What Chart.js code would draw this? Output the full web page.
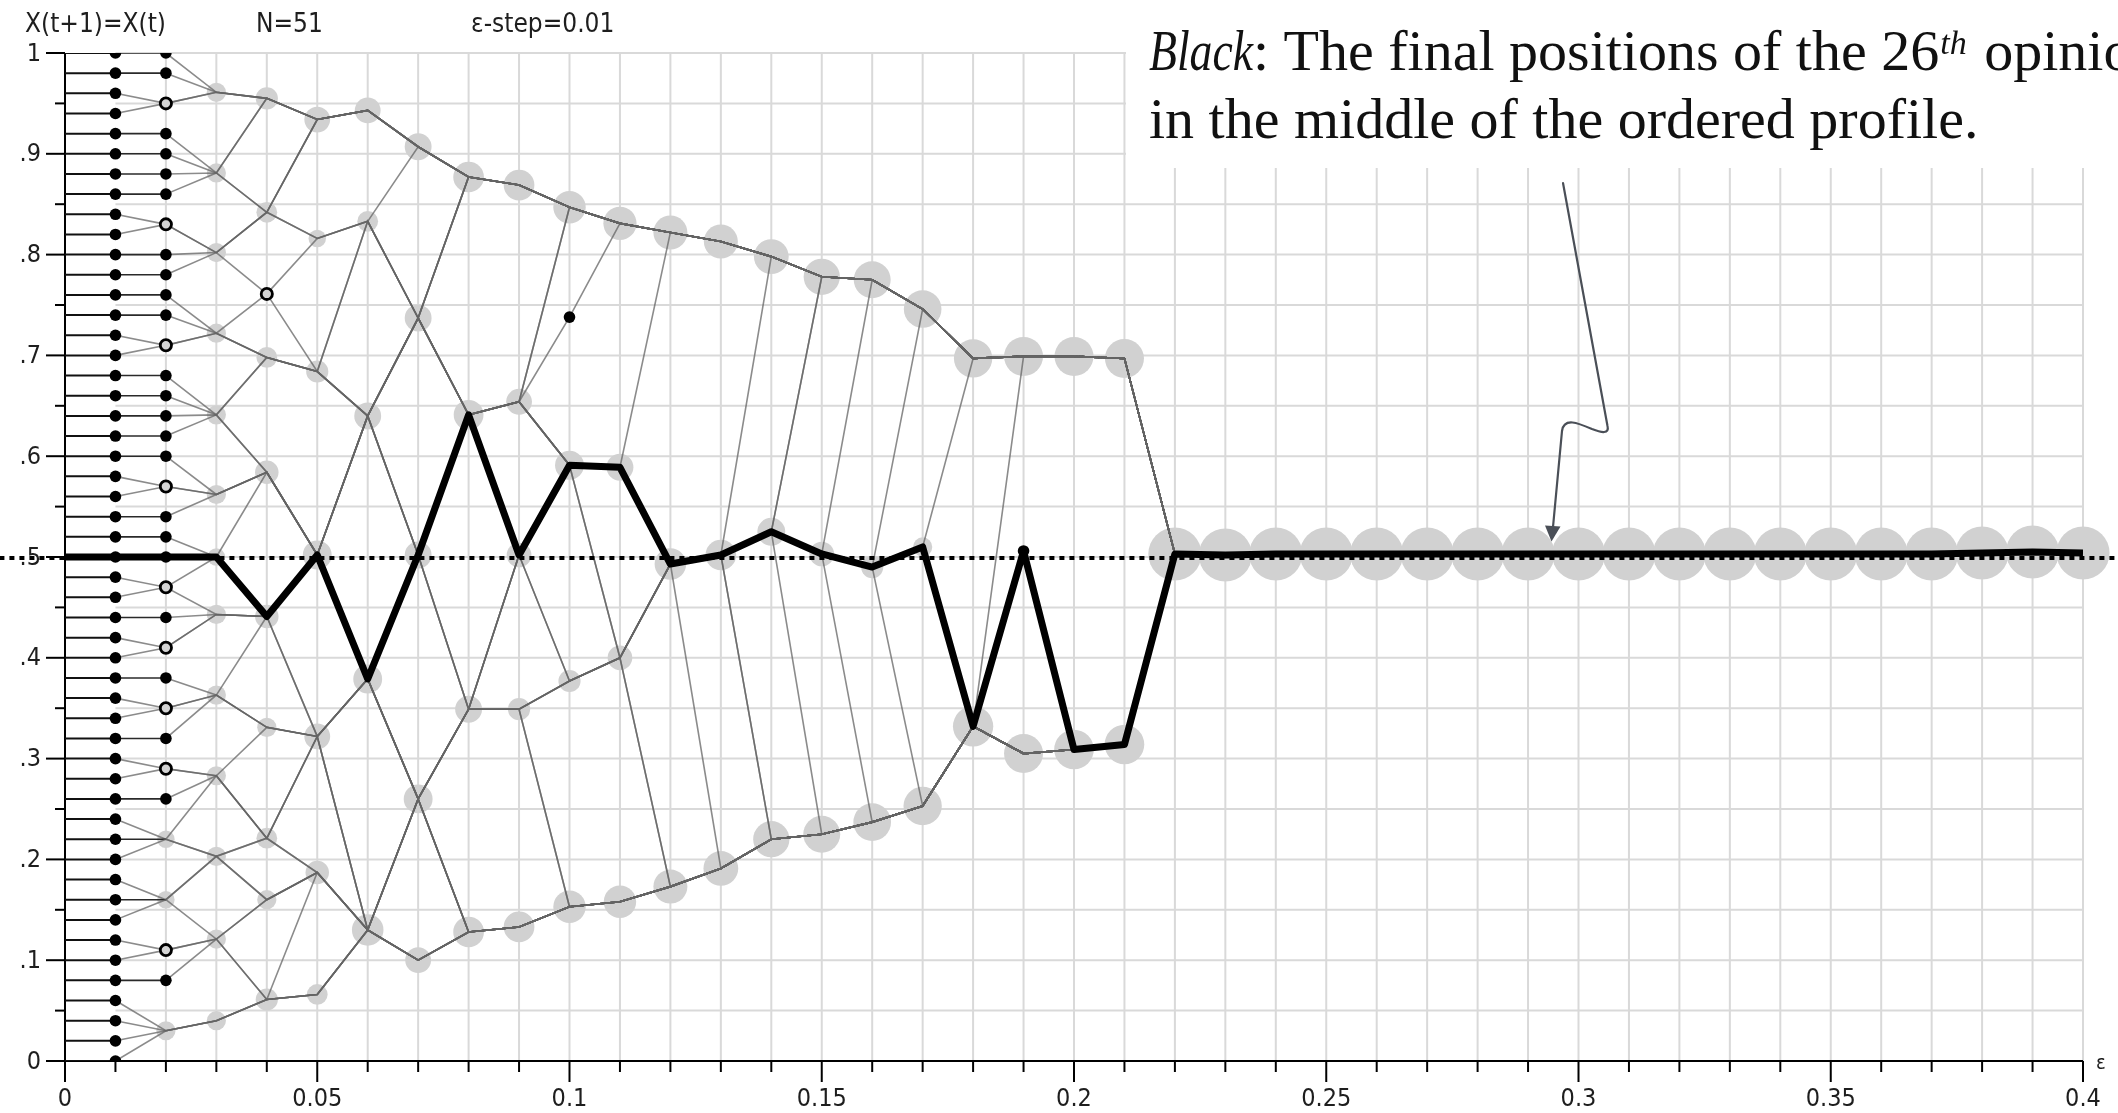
<!DOCTYPE html>
<html>
<head>
<meta charset="utf-8">
<script src="https://cdn.jsdelivr.net/npm/chart.js@4.4.1/dist/chart.umd.min.js"></script>
<style>
  html, body { margin: 0; padding: 0; background: #fff; overflow: hidden; }
  #wrap { width: 2118px; height: 1113px; position: relative; }
</style>
</head>
<body>
<div id="wrap"><canvas id="hk" width="2118" height="1113"></canvas></div>
<script>
// Bounded-confidence opinion dynamics, N = 51 agents, confidence level ε in steps of 0.01.
// For each ε: positions of the final opinion clusters (ascending) and how many agents sit in each.

const epsilons = [0.01,0.02,0.03,0.04,0.05,0.06,0.07,0.08,0.09,0.10,
                  0.11,0.12,0.13,0.14,0.15,0.16,0.17,0.18,0.19,0.20,
                  0.21,0.22,0.23,0.24,0.25,0.26,0.27,0.28,0.29,0.30,
                  0.31,0.32,0.33,0.34,0.35,0.36,0.37,0.38,0.39,0.40];

const initialOpinions = [0.00,0.02,0.04,0.06,0.08,0.10,0.12,0.14,0.16,0.18,
                         0.20,0.22,0.24,0.26,0.28,0.30,0.32,0.34,0.36,0.38,
                         0.40,0.42,0.44,0.46,0.48,0.50,0.52,0.54,0.56,0.58,
                         0.60,0.62,0.64,0.66,0.68,0.70,0.72,0.74,0.76,0.78,
                         0.80,0.82,0.84,0.86,0.88,0.90,0.92,0.94,0.96,0.98,1.00];

const pos02 = [0.03,0.08,0.11,0.16,0.22,0.26,0.29,0.32,0.35,0.38,0.41,0.44,0.47,0.50,0.52,0.54,0.57,0.60,
               0.62,0.64,0.66,0.68,0.71,0.74,0.76,0.78,0.80,0.83,0.86,0.88,0.90,0.92,0.95,0.98,1.00];
const cnt02 = [4,1,2,3,3,1,2,1,2,1,2,1,2,1,1,1,2,1,1,1,1,1,2,1,1,1,1,2,1,1,1,1,2,1,1];

const pos03 = [0.040,0.121,0.203,0.283,0.363,0.443,0.500,0.562,0.641,0.722,0.802,0.881,0.961];
const cnt03 = [4,4,4,4,4,4,3,4,4,4,4,4,4];

const pos04 = [0.061,0.160,0.221,0.331,0.441,0.584,0.698,0.761,0.842,0.955];
const cnt04 = [6,4,5,4,7,7,5,2,5,6];

const pos05 = [0.066,0.187,0.322,0.502,0.684,0.816,0.934];
const cnt05 = [5,7,9,12,6,3,9];

const pos06 = [0.130,0.379,0.640,0.833,0.943];
const cnt06 = [15,12,10,5,9];

const pos07 = [0.100,0.260,0.502,0.737,0.907];
const cnt07 = [9,12,10,10,10];

const pos08 = [0.128,0.349,0.641,0.877];
const cnt08 = [14,10,13,14];

const pos09 = [0.133,0.349,0.502,0.654,0.869];
const cnt09 = [14,6,8,9,14];

const pos10 = [0.153,0.377,0.591,0.738,0.847];
const cnt10 = [16,6,12,1,16];

const pos11 = [0.158,0.400,0.589,0.831];
const cnt11 = [16,8,10,17];

const pos12 = [0.173,0.493,0.822];
const cnt12 = [18,15,18];

const pos13 = [0.191,0.502,0.813];
const cnt13 = [19,14,18];

const pos14 = [0.220,0.525,0.798];
const cnt14 = [21,11,19];

const pos15 = [0.225,0.503,0.778];
const cnt15 = [22,8,21];

const pos16 = [0.237,0.490,0.775];
const cnt16 = [23,6,22];

const pos17 = [0.253,0.510,0.746];
const cnt17 = [24,4,23];

const pos18 = [0.332,0.697];
const cnt18 = [27,24];

const pos19 = [0.305,0.506,0.699];
const cnt19 = [25,1,25];

const pos20 = [0.309,0.699];
const cnt20 = [26,25];

const pos21 = [0.314,0.697];
const cnt21 = [26,25];

// ε = 0.22 … 0.40: a single consensus cluster holding all 51 agents
const consensusPositions = [0.503,0.502,0.503,0.503,0.503,0.503,0.503,0.503,0.503,0.503,
                            0.503,0.503,0.503,0.503,0.503,0.503,0.504,0.505,0.504];

const xTickValues = [0,0.05,0.10,0.15,0.20,0.25,0.30,0.35,0.40];
const xTickLabels = ['0','0.05','0.1','0.15','0.2','0.25','0.3','0.35','0.4'];
const yTickValues = [0,0.1,0.2,0.3,0.4,0.5,0.6,0.7,0.8,0.9,1];
const yTickLabels = ['0','.1','.2','.3','.4','.5','.6','.7','.8','.9','1'];

const medianAgent = 25;        // the 26th opinion of the ordered profile
const middleLevel = 0.499;     // dotted reference line

// ---------- tables built from the arrays above ----------
const clusterColumns = [
  [0.01, initialOpinions, initialOpinions.map(() => 1)],
  [0.02, pos02, cnt02], [0.03, pos03, cnt03], [0.04, pos04, cnt04], [0.05, pos05, cnt05],
  [0.06, pos06, cnt06], [0.07, pos07, cnt07], [0.08, pos08, cnt08], [0.09, pos09, cnt09],
  [0.10, pos10, cnt10], [0.11, pos11, cnt11], [0.12, pos12, cnt12], [0.13, pos13, cnt13],
  [0.14, pos14, cnt14], [0.15, pos15, cnt15], [0.16, pos16, cnt16], [0.17, pos17, cnt17],
  [0.18, pos18, cnt18], [0.19, pos19, cnt19], [0.20, pos20, cnt20], [0.21, pos21, cnt21],
  ...epsilons.slice(21).map((e, i) => [e, [consensusPositions[i]], [51]])
];

// opinions are order preserving: expand each column into the 51 agents' final positions
const agentTracks = clusterColumns.map(([, pos, cnt]) => {
  const out = [];
  pos.forEach((p, j) => { for (let k = 0; k < cnt[j]; k++) out.push(p); });
  return out;
});

const trackOf = i => [{ x: 0, y: initialOpinions[i] },
  ...clusterColumns.map((c, k) => ({ x: c[0], y: agentTracks[k][i] }))];

const groupPts = [], pairPts = [], singlePts = [];
clusterColumns.forEach(([e, pos, cnt]) => pos.forEach((p, j) => {
  const pt = { x: e, y: p, n: cnt[j] };
  if (cnt[j] >= 3) groupPts.push(pt); else if (cnt[j] === 2) pairPts.push(pt); else singlePts.push(pt);
}));

const LINE_GREY = 'rgba(100,100,100,0.75)';
const agentLines = initialOpinions.map((v, i) => ({
  type: 'scatter', showLine: true, order: 40, pointRadius: 0, borderWidth: 1.6,
  borderColor: LINE_GREY, data: trackOf(i),
  segment: {
    borderColor: c => c.p0DataIndex === 0 ? '#111'
      : (c.p0DataIndex === 1 && c.p0.parsed.y === c.p1.parsed.y ? '#2a2a2a' : LINE_GREY),
    borderWidth: c => c.p0DataIndex === 0 ? 2 : 1.6
  }
}));

const datasets = [
  { type: 'scatter', order: 50, data: groupPts, clip: false,
    pointRadius: c => c.raw ? 3 + 3.3 * Math.sqrt(c.raw.n) : 0,
    pointBackgroundColor: '#d1d1d1', pointBorderWidth: 0, pointBorderColor: 'rgba(0,0,0,0)' },
  ...agentLines,
  { type: 'scatter', showLine: true, order: 30, clip: false, pointRadius: 0,
    borderColor: '#000', borderWidth: 4, borderDash: [5, 5],
    data: [{ x: -0.013, y: middleLevel }, { x: 0.407, y: middleLevel }] },
  { type: 'scatter', showLine: true, order: 20, pointRadius: 0, borderColor: '#000',
    borderWidth: 7, borderJoinStyle: 'round', borderCapStyle: 'butt', data: trackOf(medianAgent) },
  { type: 'scatter', order: 10, data: pairPts, pointRadius: 5.6,
    pointBackgroundColor: '#d4d4d4', pointBorderColor: '#000', pointBorderWidth: 2.8 },
  { type: 'scatter', order: 5, data: singlePts, pointRadius: 5.8,
    pointBackgroundColor: '#000', pointBorderColor: '#000', pointBorderWidth: 0 }
];

// ---------- frame: grid, axes, labels, note ----------
const SANS = '"DejaVu Sans Condensed","DejaVu Sans",sans-serif';
const SERIF = '"Liberation Serif","Times New Roman",serif';

function seg(ctx, x1, y1, x2, y2) { ctx.beginPath(); ctx.moveTo(x1, y1); ctx.lineTo(x2, y2); ctx.stroke(); }

const framePlugin = {
  id: 'frame',
  beforeDatasetsDraw(chart) {
    const { ctx, scales: { x, y } } = chart;
    const y0 = y.getPixelForValue(0), y1 = y.getPixelForValue(1);
    const x0 = x.getPixelForValue(0), x4 = x.getPixelForValue(0.4);
    ctx.save();
    // light grid: every 0.01 in ε, every 0.05 in opinion
    ctx.strokeStyle = '#d9d9d9'; ctx.lineWidth = 2;
    for (let k = 2; k <= 40; k++) { const px = x.getPixelForValue(k / 100); seg(ctx, px, y0, px, y1); }
    for (let k = 1; k <= 20; k++) { const py = y.getPixelForValue(k / 20); seg(ctx, x.getPixelForValue(0.01), py, x4, py); }
    // blank panel for the note
    ctx.fillStyle = '#fff'; ctx.fillRect(1126, 0, 2118 - 1126, 168);

    // axes
    ctx.strokeStyle = '#000'; ctx.lineWidth = 2;
    seg(ctx, x0, y0, x0, y1);
    seg(ctx, x0 - 1, y0, x4, y0);
    for (let k = 0; k <= 20; k++) {
      const py = y.getPixelForValue(k / 20);
      seg(ctx, k % 2 === 0 ? x0 - 19 : x0 - 10, py, x0, py);
    }
    for (let k = 0; k <= 40; k++) {
      const px = x.getPixelForValue(k / 100);
      seg(ctx, px, y0, px, y0 + (k % 5 === 0 ? 21 : 11));
    }
    // tick labels
    ctx.fillStyle = '#1e1e1e'; ctx.font = '25px ' + SANS;
    ctx.textAlign = 'right'; ctx.textBaseline = 'middle';
    yTickValues.forEach((v, i) => ctx.fillText(yTickLabels[i], 41, y.getPixelForValue(v) + 1));
    ctx.textAlign = 'center';
    xTickValues.forEach((v, i) => ctx.fillText(xTickLabels[i], x.getPixelForValue(v), 1099));
    ctx.font = '20px ' + SANS; ctx.textAlign = 'left';
    ctx.fillText('ε', 2096, 1064);
    ctx.restore();
  },
  afterDraw(chart) {
    const ctx = chart.ctx;
    ctx.save();
    // header
    ctx.fillStyle = '#1e1e1e'; ctx.font = '26px ' + SANS;
    ctx.textAlign = 'left'; ctx.textBaseline = 'alphabetic';
    ctx.fillText('X(t+1)=X(t)', 25, 32);
    ctx.fillText('N=51', 256, 32);
    ctx.fillText('ε-step=0.01', 471, 32);

    // note
    ctx.fillStyle = '#111';
    let tx = 1149; const b1 = 70;
    ctx.font = 'italic 58px ' + SERIF;
    const wB = ctx.measureText('Black').width;
    ctx.save(); ctx.translate(tx, b1); ctx.scale(104 / wB, 1); ctx.fillText('Black', 0, 0); ctx.restore();
    tx += 104;
    ctx.font = '58px ' + SERIF;
    const s1 = ': The final positions of the 26';
    ctx.fillText(s1, tx, b1); tx += ctx.measureText(s1).width;
    ctx.font = 'italic 34px ' + SERIF;
    ctx.fillText('th', tx + 1, b1 - 16); tx += ctx.measureText('th').width + 4;
    ctx.font = '58px ' + SERIF;
    ctx.fillText(' opinion', tx, b1);
    ctx.fillText('in the middle of the ordered profile.', 1149, 138);

    // pointer to the consensus line
    ctx.strokeStyle = '#4a4f57'; ctx.fillStyle = '#4a4f57'; ctx.lineWidth = 2.2;
    ctx.lineJoin = 'round'; ctx.lineCap = 'round';
    ctx.beginPath();
    ctx.moveTo(1563, 183);
    ctx.lineTo(1607.5, 426);
    ctx.bezierCurveTo(1609.5, 434, 1602, 433, 1592, 429);
    ctx.bezierCurveTo(1578, 423, 1564, 417, 1562, 431);
    ctx.lineTo(1553, 527);
    ctx.stroke();
    ctx.beginPath();
    ctx.moveTo(1545, 525.5); ctx.lineTo(1560.5, 526.5); ctx.lineTo(1551.5, 541.5); ctx.closePath();
    ctx.fill();
    ctx.restore();
  }
};

new Chart(document.getElementById('hk'), {
  type: 'scatter',
  data: { datasets },
  options: {
    responsive: false, animation: false, devicePixelRatio: 1, events: [],
    layout: { padding: { left: 65, right: 35, top: 53, bottom: 52 } },
    scales: {
      x: { type: 'linear', min: 0, max: 0.4, display: false },
      y: { type: 'linear', min: 0, max: 1, display: false }
    },
    plugins: { legend: { display: false }, tooltip: { enabled: false } },
    elements: { line: { tension: 0 } }
  },
  plugins: [framePlugin]
});
</script>
</body>
</html>
